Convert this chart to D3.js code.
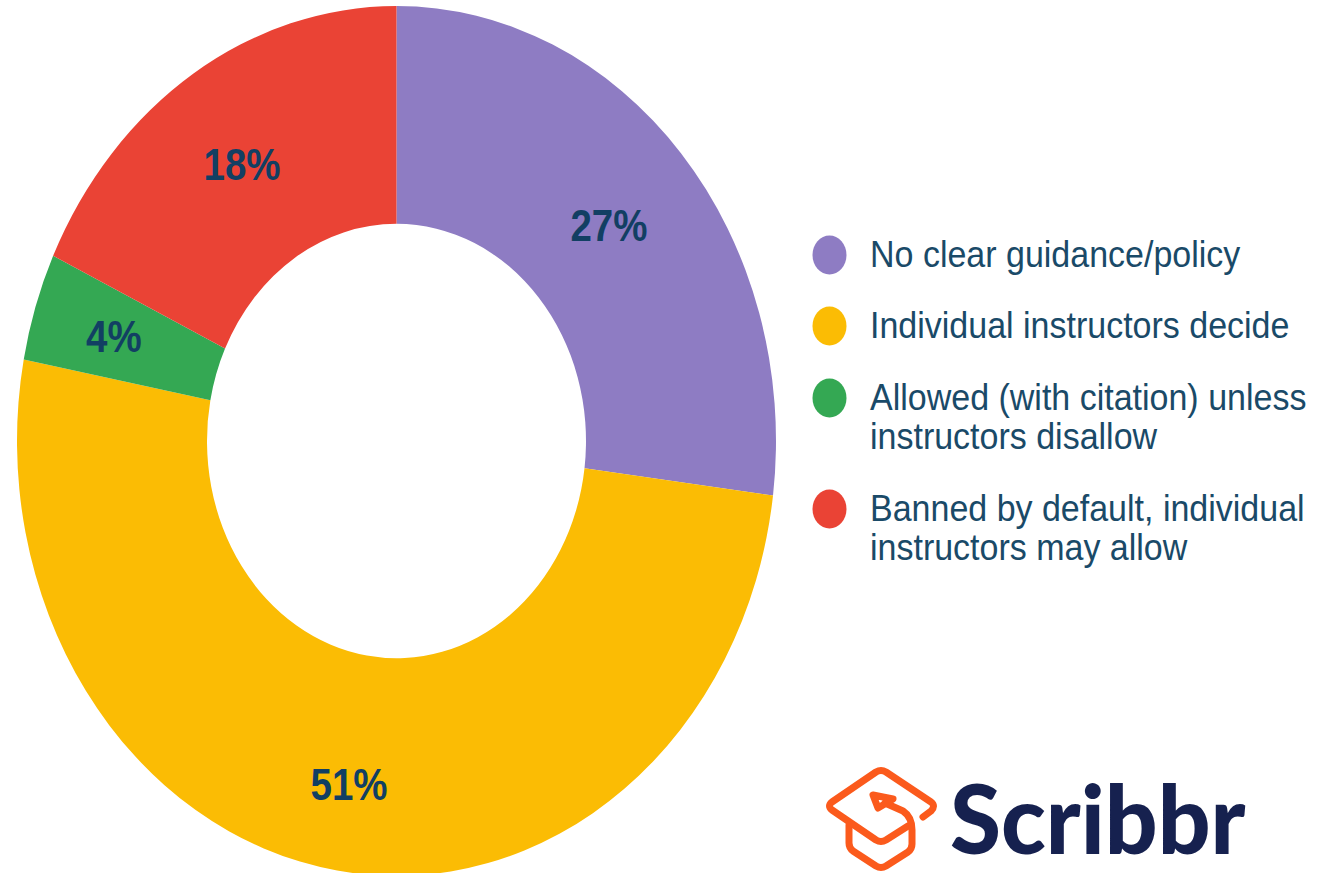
<!DOCTYPE html>
<html>
<head>
<meta charset="utf-8">
<script src="https://cdn.jsdelivr.net/npm/d3@7"></script>
<style>
  html, body { margin: 0; padding: 0; background: #fff; }
  svg { display: block; }
</style>
</head>
<body>
<div class="chart"></div>
<script>
const categories = ["No clear guidance/policy", "Individual instructors decide", "Allowed (with citation) unless instructors disallow", "Banned by default, individual instructors may allow"]
const values = [27, 51, 4, 18]
const colors = ["#8e7cc3", "#fbbc04", "#34a853", "#ea4335"]
const legendLines = [["No clear guidance/policy"], ["Individual instructors decide"], ["Allowed (with citation) unless", "instructors disallow"], ["Banned by default, individual", "instructors may allow"]]
const legendY = [255, 326, 398, 509]

const width = 1332, height = 873
const cx = 396.5, cy = 441
const outerR = 379.5, innerR = 189.5
// the source image is stretched vertically
const stretch = 1.146
const textColor = "#1a4a68"

const svg = d3.select(".chart").append("svg")
    .attr("width", width)
    .attr("height", height)

const donut = svg.append("g")
    .attr("transform", `translate(${cx},${cy}) scale(1,${stretch})`)

const pie = d3.pie().sort(null)
const arc = d3.arc().innerRadius(innerR).outerRadius(outerR)

const slices = pie(values)

donut.selectAll("path")
    .data(slices)
    .enter().append("path")
    .attr("d", arc)
    .attr("fill", (d, i) => colors[i])

// labels sit a bit off the centroid in the original
const labelNudge = [[-1, 0], [-3, 19], [-12, -3], [-2, -1]]

donut.selectAll("text")
    .data(slices)
    .enter().append("text")
    .attr("transform", (d, i) => {
      const c = arc.centroid(d)
      return `translate(${c[0] + labelNudge[i][0]},${c[1] + labelNudge[i][1]})`
    })
    .attr("text-anchor", "middle")
    .attr("dy", "0.35em")
    .attr("font-family", "Liberation Sans")
    .attr("font-weight", "bold")
    .attr("font-size", 38.5)
    .attr("fill", "#123f63")
    .text(d => d.data + "%")

const legend = svg.append("g")

legend.selectAll("ellipse")
    .data(categories)
    .enter().append("ellipse")
    .attr("cx", 829.5)
    .attr("cy", (d, i) => legendY[i])
    .attr("rx", 17)
    .attr("ry", 19.5)
    .attr("fill", (d, i) => colors[i])

legendLines.forEach((lines, i) => {
  lines.forEach((line, j) => {
    legend.append("text")
      .attr("transform", `translate(870,${legendY[i] + 12 + j * 39}) scale(1,1.08)`)
      .attr("font-family", "Liberation Sans")
      .attr("font-size", 34)
      .attr("fill", textColor)
      .text(line)
  })
})

// logo
const logo = svg.append("g")
    .attr("fill", "none")
    .attr("stroke", "#fb5a1c")
    .attr("stroke-width", 7)
    .attr("stroke-linecap", "round")
    .attr("stroke-linejoin", "round")

logo.append("path")
    .attr("d", "M923,817 L931,811 Q936,806 931,802 L886,772 Q881,769 876,772 L832,802 Q827,806 832,810 L876,840 Q881,843 886,840 L908,826")
logo.append("path")
    .attr("d", "M849,825 L849,843 Q849,848 853,851 L876,866 Q881,869 886,866 L908,852 Q912,849 912,844 L912,830 Q912,817 903,811 L885,803")
logo.append("path")
    .attr("d", "M873,795 L893,799 L878,808 Z")

svg.append("text")
    .attr("transform", "translate(950,854) scale(0.965,1)")
    .attr("font-family", "Lato")
    .attr("font-weight", 900)
    .attr("font-size", 96)
    .attr("fill", "#16214f")
    .text("Scribbr")
</script>
</body>
</html>
